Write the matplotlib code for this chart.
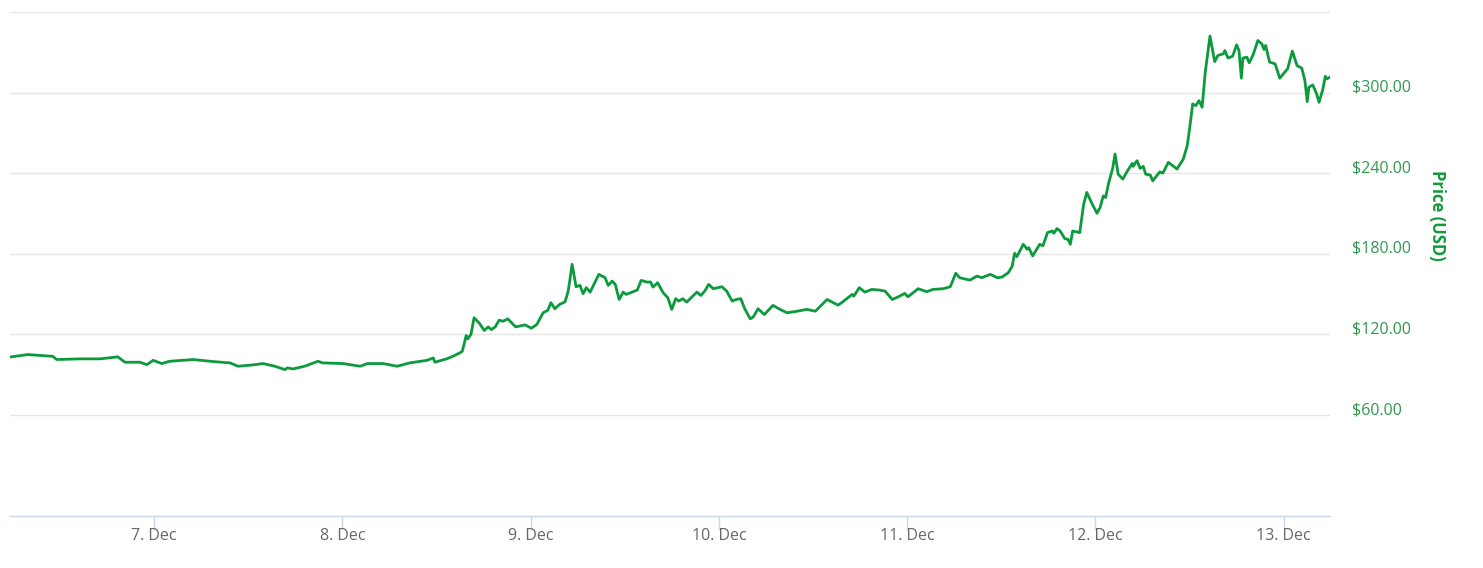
import matplotlib
matplotlib.use("Agg")
import matplotlib.pyplot as plt
import matplotlib.dates as mdates
from matplotlib.transforms import ScaledTranslation
import pandas as pd

# hours after 6 Dec 00:00, price in USD
hours = [5.8, 7.9, 11.1, 11.6, 14.6, 17.1, 19.4, 20.3, 22.2, 23.1, 23.9, 25.0, 26.0, 29.0,
         31.5, 33.7, 34.7, 36.6, 37.9, 39.4, 40.7, 41.0, 41.7, 43.2, 44.9, 45.5, 48.1, 50.3,
         51.2, 53.2, 55.0, 56.6, 58.8, 59.6, 59.8, 61.3, 62.1, 63.0, 63.3, 63.8, 64.0, 64.4,
         64.8, 65.5, 66.1, 66.6, 67.0, 67.5, 68.0, 68.5, 69.1, 70.1, 71.3, 72.1, 72.8, 73.6,
         74.2, 74.6, 75.1, 75.7, 76.4, 76.8, 77.3, 77.8, 78.3, 78.7, 79.1, 79.6, 80.7, 81.5,
         81.9, 82.4, 82.8, 83.3, 83.8, 84.2, 85.6, 86.1, 86.8, 87.3, 87.6, 88.2, 88.9, 89.5,
         90.0, 90.5, 90.9, 91.4, 91.9, 93.2, 93.7, 94.2, 94.7, 95.3, 96.4, 97.0, 97.7, 98.2,
         98.8, 99.3, 100.0, 100.4, 101.0, 101.8, 102.9, 103.8, 104.7, 106.0, 107.2, 108.3,
         109.8, 111.2, 111.8, 113.0, 113.2, 113.9, 114.6, 115.5, 116.5, 117.2, 118.1, 118.8,
         119.7, 120.1, 121.4, 122.5, 123.3, 124.6, 125.5, 126.2, 126.7, 128.0, 128.9, 129.5,
         130.6, 131.5, 132.1, 132.9, 133.4, 133.7, 134.0, 134.8, 135.3, 135.5, 136.0, 136.9,
         137.3, 137.9, 138.5, 138.7, 139.1, 139.5, 140.1, 140.5, 140.8, 141.1, 142.0, 142.5,
         142.9, 143.6, 144.2, 144.6, 145.0, 145.3, 145.7, 146.2, 146.5, 146.9, 147.5, 148.0,
         148.7, 148.8, 149.3, 149.7, 150.1, 150.4, 151.0, 151.3, 152.2, 152.6, 153.3, 154.4,
         155.2, 155.7, 156.0, 156.4, 156.8, 157.2, 157.6, 158.0, 158.6, 159.2, 159.6, 160.3,
         160.5, 160.9, 161.5, 162.0, 162.3, 162.6, 162.8, 163.3, 163.6, 164.1, 164.7, 165.2,
         165.5, 165.7, 166.2, 166.9, 167.5, 168.2, 168.5, 169.1, 169.7, 170.3, 170.7, 171.0,
         171.2, 171.7, 172.2, 172.5, 173.0, 173.3, 173.5, 173.9]
price = [103.3, 105.0, 103.7, 101.3, 101.8, 101.8, 103.3, 99.3, 99.3, 97.5, 100.7, 98.3, 100.0, 101.3,
         99.8, 98.8, 96.3, 97.3, 98.3, 96.3, 93.8, 95.1, 94.3, 96.3, 100.0, 98.8, 98.3, 96.3,
         98.3, 98.3, 96.3, 98.8, 100.7, 102.5, 99.3, 101.8, 103.7, 106.3, 107.5, 119.2, 116.7, 119.9,
         132.4, 128.1, 122.9, 125.6, 123.6, 125.6, 130.6, 129.8, 131.6, 125.6, 127.1, 124.6, 127.4, 136.1,
         138.0, 143.6, 139.1, 142.3, 144.3, 152.2, 172.2, 155.5, 156.5, 150.3, 154.8, 151.5, 164.7, 162.2,
         156.5, 159.7, 157.2, 146.0, 151.5, 149.8, 153.0, 160.2, 159.0, 159.0, 155.2, 158.5, 151.0, 147.3,
         138.6, 146.6, 144.8, 146.6, 144.0, 151.5, 149.0, 152.2, 157.2, 154.0, 155.5, 152.2, 144.8, 146.0,
         146.6, 139.1, 131.6, 133.1, 139.1, 134.8, 141.6, 138.6, 136.1, 137.3, 138.6, 137.3,
         146.0, 141.8, 144.3, 149.8, 148.5, 154.8, 151.5, 153.5, 153.0, 152.2, 146.0, 147.8,
         150.5, 148.0, 154.0, 151.8, 153.5, 154.0, 155.5, 165.5, 162.2, 160.4, 163.4, 162.2,
         164.7, 162.2, 162.7, 166.0, 170.9, 180.4, 177.9, 187.1, 183.4, 184.6, 178.4, 187.1,
         185.9, 195.8, 197.0, 195.3, 198.8, 197.0, 191.3, 190.8, 187.1, 197.0, 195.8, 216.9,
         225.7, 216.9, 210.2, 214.5, 223.1, 221.9, 233.1, 243.6, 254.3, 239.3, 235.6, 241.0,
         247.3, 245.1, 249.3, 243.6, 245.1, 239.3, 238.6, 234.3, 241.0, 240.1, 248.1, 243.1,
         250.5, 260.4, 272.9, 291.6, 290.3, 294.0, 289.1, 315.2, 342.1, 323.1, 327.6, 328.9,
         331.3, 325.7, 327.2, 335.6, 331.3, 310.7, 325.7, 326.4, 322.2, 328.1, 338.8, 336.3,
         332.1, 335.1, 322.7, 321.4, 310.7, 315.7, 317.7, 330.9, 320.1, 318.2, 309.0, 293.3,
         304.0, 305.7, 299.0, 292.8, 302.8, 312.2, 310.2, 311.5]

y_ticks = [60, 120, 180, 240, 300]
y_grid = [60, 120, 180, 240, 300, 360]

start = pd.Timestamp("2017-12-06")
t = start + pd.to_timedelta(hours, unit="h")

line_green = "#0b9a3c"
label_green = "#2f9a4d"

plt.rcParams["font.family"] = ["Open Sans", "DejaVu Sans"]

fig = plt.figure(figsize=(14.83, 5.68), dpi=100)
ax = fig.add_axes([10 / 1483, 1 - 515.5 / 568, 1320 / 1483, 503.5 / 568])

ax.plot(t, price, color=line_green, lw=2.0, solid_joinstyle="round")

ax.set_xlim(start + pd.Timedelta(hours=5.65), start + pd.Timedelta(hours=173.9))
ax.set_ylim(-14.8, 360)

# grid
ax.set_yticks(y_grid)
ax.yaxis.grid(True, color="#e6e6e6", lw=1)
ax.set_axisbelow(True)
ax.tick_params(axis="y", length=0, labelleft=False, labelright=False)

# y labels on the right, a little above their gridline
off = ScaledTranslation(22 / 100, 5 / 100, fig.dpi_scale_trans)
for v in y_ticks:
    ax.text(1.0, v, f"${v:.2f}", transform=ax.get_yaxis_transform() + off,
            ha="left", va="center", fontsize=11.5, color=label_green)

fig.text(1437 / 1483, 1 - 215 / 568, "Price (USD)", rotation=-90, ha="center", va="center",
         fontsize=12, fontweight="bold", color="#119a3a")

# x axis
ax.xaxis.set_major_locator(mdates.DayLocator())
ax.xaxis.set_major_formatter(mdates.DateFormatter("%-d. %b"))
ax.tick_params(axis="x", length=10, width=1, color="#ccd6eb", labelsize=11.5,
               labelcolor="#666666", pad=-1)

for s in ["top", "left", "right"]:
    ax.spines[s].set_visible(False)
ax.spines["bottom"].set_color("#ccd6eb")
ax.spines["bottom"].set_linewidth(1)

fig.savefig("out.png", dpi=100)
